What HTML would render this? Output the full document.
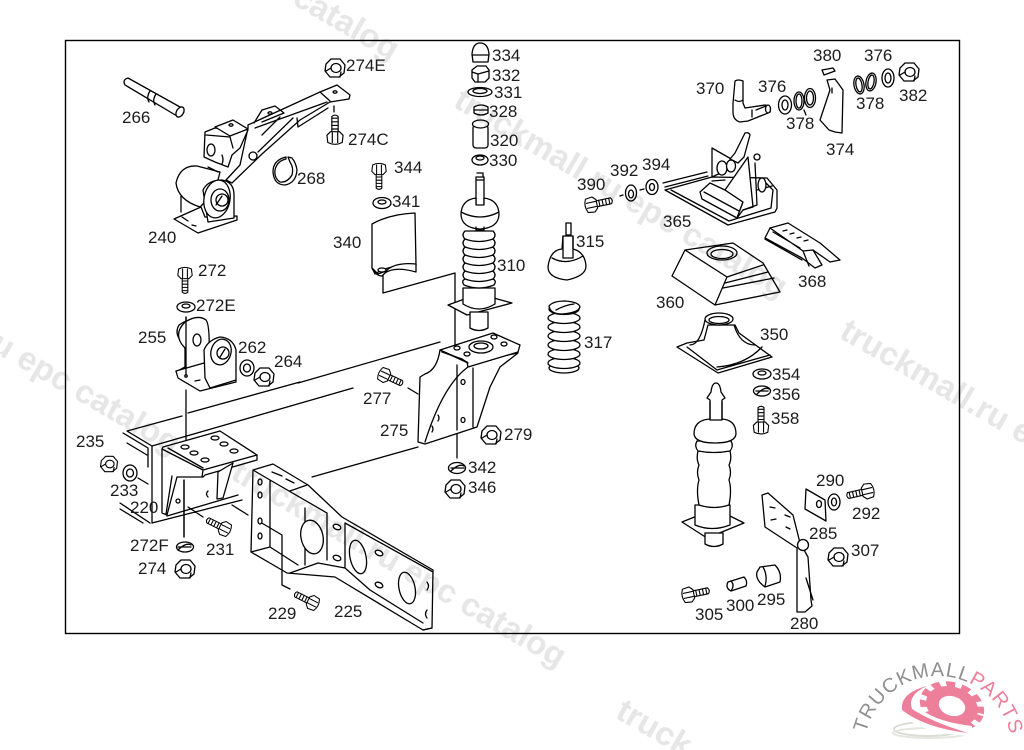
<!DOCTYPE html>
<html lang="en"><head><meta charset="utf-8"><title>Diagram</title>
<style>
html,body{margin:0;padding:0;background:#fff;width:1024px;height:750px;overflow:hidden}
svg{position:absolute;left:0;top:0;display:block;overflow:hidden}
.p path,.p ellipse,.p circle,.p rect,.p polygon,.p polyline,.p line{stroke:#000;stroke-width:1.3;fill:#fff;stroke-linejoin:round;stroke-linecap:round}
.p .n{fill:none}
.l text{font:17px "Liberation Sans",sans-serif;fill:#1c1c1c}
.w{mix-blend-mode:multiply}
.w text{font:bold 33px "Liberation Sans",sans-serif;fill:#e6e6e6}
</style></head><body>
<svg width="1024" height="750" viewBox="0 0 1024 750" xmlns="http://www.w3.org/2000/svg">
<defs>
<g id="bolt" class="p"><path d="M6,-3.5L24,-3.5Q27,0 24,3.5L6,3.5Z"/><path class="n" d="M10,-3.5V3.5M14,-3.5V3.5M18,-3.5V3.5M22,-3.5V3.5"/><path d="M-5,-8L3,-9L7,-5L7,5L3,9L-5,8Q-9,0 -5,-8Z"/><path class="n" d="M-5,-3L6,-3M-5,3L6,3"/></g>
<g id="nut" class="p"><path d="M-9,-4L-4,-9L5,-9L10,-3L9,5L4,9L-5,9L-10,3Z"/><ellipse cx="1" cy="0" rx="5" ry="4.5"/><path class="n" d="M-9,3L-4,0M5,9L6,4"/></g>
</defs>
<rect x="65.5" y="40.5" width="894" height="593" fill="#fff" stroke="#000" stroke-width="1.4"/>
<g class="p">
<!-- frame rail lines -->
<path class="n" d="M127,431L182,416M188,413L300,382M298,383L440,342M152,446L353,388M428,438L457,430M312,477L418,447M127,431L152,446L152,523L242,500M123,433L148,448L148,467M127,443L147,455M120,503L150,523M120,509L143,523M232,505L248,515M138,478L148,484M188,507L203,517M408,388L418,394M383,273V293L455,273V350M186,317V372M186,390V445M184,480V537M457,365V458M334,106V112"/>
<!-- 266 pin -->
<path d="M128,78L180,107L184,112L177,116L125,85Q122,80 128,78Z"/><path class="n" d="M150,91Q146,97 149,102M156,94Q152,100 155,105"/><ellipse cx="180" cy="112" rx="3.5" ry="5.5" transform="rotate(30 180 112)"/>
<!-- 240 bracket -->
<path d="M248,125L320,92L337,85L350,95L349,99L330,102L300,120L262,154L232,183L226,180L240,165L248,128Z"/>
<path class="n" d="M320,92L330,101M254,123L262,110L275,106L284,113L262,122M255,128L327,102M293,118L258,152M297,118L298,127L328,108M280,117L262,135"/>
<ellipse cx="335" cy="92" rx="2" ry="1.2"/><ellipse cx="270" cy="113" rx="2" ry="1.2"/><circle cx="253" cy="156" r="4"/>
<path d="M205,132L215,128L248,130L240,148L232,155L228,167L215,162L204,157Z"/>
<path d="M215,127L233,120L248,129L230,136Z"/><ellipse cx="231" cy="125" rx="2" ry="1.2"/>
<path class="n" d="M206,135L230,137L233,148"/>
<path class="n" d="M212,145Q215,150 213,155M222,155Q224,160 222,164"/><ellipse cx="211" cy="150" rx="4" ry="6"/>
<path d="M174,219L201,207L205,217L237,216L237,220L198,233Z"/>
<path d="M197,166Q180,165 176,183Q178,200 200,207L215,192L220,172Z"/>
<path class="n" d="M181,196L181,212M208,167L218,172"/>
<path d="M208,222L203,190Q208,180 222,180Q234,182 234,195V218Z"/>
<ellipse cx="217" cy="199" rx="13" ry="19" transform="rotate(10 217 199)"/>
<ellipse cx="220" cy="200" rx="9" ry="11"/><circle cx="222" cy="200" r="6"/><path class="n" d="M216,205L222,196"/>
<path class="n" d="M182,217L188,221M192,225L196,226"/>
<!-- 268 circlip -->
<path d="M286,157Q273,160 273,172Q274,185 285,185Q296,183 297,170Q296,163 292,158L288,157L290,162Q294,168 292,175Q287,183 280,182Q274,178 275,170Q277,161 286,159Z"/>
<!-- 340 cover -->
<path d="M372,224Q390,214 415,213L416,265Q390,264 375,274L372,268Z"/><path d="M372,268L378,274L386,271Q395,262 416,264L416,272Q395,266 385,273L382,276Q376,276 372,268Z"/><ellipse cx="382" cy="270" rx="4" ry="2"/>
<!-- 275 bracket -->
<path d="M420,377L425,374Q437,370 440,350L468,363L518,353L500,367L490,387L477,427L425,444L418,442Z"/>
<path d="M440,350L493,333L520,345L518,352L468,367L467,362Z"/>
<path class="n" d="M442,352L462,359L468,363M468,367Q443,385 425,442M473,368V427"/>
<ellipse cx="481" cy="347" rx="12" ry="6"/><ellipse cx="481" cy="346" rx="7" ry="3"/>
<ellipse cx="457" cy="348" rx="3" ry="2"/><ellipse cx="467" cy="354" rx="3" ry="2"/><ellipse cx="494" cy="337" rx="3" ry="2"/><ellipse cx="504" cy="344" rx="3" ry="2"/>
<ellipse cx="463" cy="382" rx="2" ry="2.5"/><ellipse cx="463" cy="420" rx="2" ry="2.5"/>
<path class="n" d="M438,415Q440,418 438,421M432,426Q434,429 432,432M457,365V430"/>
<!-- 255 -->
<path d="M176,372L185,367L185,345Q173,335 179,325Q186,320 194,319L190,365Z"/>
<path d="M183,369L186,366L185,348Q172,335 185,322Q198,314 206,320Q210,325 209,355L207,365Z"/>
<ellipse cx="197" cy="340" rx="4" ry="6"/>
<path d="M176,371L204,363L207,368L207,372L236,380V382L200,391L178,378Z"/>
<path d="M205,378L204,350Q208,340 220,337Q233,338 236,350V380L210,388Z"/>
<ellipse cx="221" cy="352" rx="10" ry="13" transform="rotate(15 221 352)"/><circle cx="223" cy="353" r="6"/><path class="n" d="M220,357L225,349M186,317V376"/>
<circle cx="186" cy="376" r="1.2"/><path class="n" d="M195,381L200,380"/>
<!-- bracket under 255 -->
<path d="M163,447L220,431L257,455L257,460L205,475L203,477L177,477L167,515L162,513V449Z"/>
<path class="n" d="M162,449L203,470L257,455M203,470L202,477M168,448L203,468M172,476L166,514"/>
<path d="M233,463L223,498L217,499L218,472Z"/>
<path class="n" d="M167,516L238,495"/>
<ellipse cx="185" cy="447" rx="4" ry="2"/><ellipse cx="194" cy="453" rx="4" ry="2"/><ellipse cx="205" cy="460" rx="4" ry="2"/><ellipse cx="215" cy="438" rx="4" ry="2"/><ellipse cx="224" cy="444" rx="4" ry="2"/><ellipse cx="234" cy="451" rx="4" ry="2"/><ellipse cx="178" cy="501" rx="2" ry="2"/>
<path class="n" d="M208,491Q205,494 208,497M184,480V537"/>
<!-- 225 crossmember -->
<path d="M253,470L273,464L308,485L342,517L433,570L432,628L423,630L335,577L287,573L251,552Z"/>
<path class="n" d="M253,470L270,480L327,513M345,523L433,572M270,480V547L251,552M270,547L298,565M290,491L307,485M327,513V560M345,523V568M290,573L318,563L345,568L370,590M370,590L423,623M423,630L432,628M305,508V565M260,522L282,535V585L290,589"/>
<ellipse cx="312" cy="537" rx="11" ry="17" transform="rotate(-12 312 537)"/><ellipse cx="358" cy="557" rx="8" ry="17" transform="rotate(-12 358 557)"/><ellipse cx="407" cy="588" rx="8" ry="16" transform="rotate(-12 407 588)"/>
<ellipse cx="260" cy="482" rx="2" ry="3"/><ellipse cx="260" cy="495" rx="2" ry="3"/><ellipse cx="260" cy="521" rx="2" ry="3"/><ellipse cx="260" cy="536" rx="2" ry="3"/>
<ellipse cx="337" cy="527" rx="4" ry="2.5" transform="rotate(20 337 527)"/><ellipse cx="337" cy="558" rx="4" ry="2.5" transform="rotate(20 337 558)"/><ellipse cx="379" cy="553" rx="4" ry="2.5" transform="rotate(25 379 553)"/><ellipse cx="379" cy="585" rx="4" ry="2.5" transform="rotate(25 379 585)"/>
<path class="n" d="M272,472L282,476M286,479L294,483M427,582Q430,586 427,590M427,610Q424,614 427,618"/>
<!-- 334..330 stack -->
<path d="M472,54Q473,43 480,43Q488,43 489,54L488,62L473,62Z"/><path class="n" d="M472,55L489,55"/>
<path d="M472,70L477,66L486,66L489,70L489,78L485,82L475,82L472,78Z"/><path class="n" d="M472,72L478,74L489,71M478,74V82"/>
<ellipse cx="480" cy="92" rx="12" ry="4.5"/><ellipse cx="480" cy="91" rx="7" ry="2.5"/>
<path d="M474,107Q481,103 488,107V113Q481,117 474,113Z"/><path class="n" d="M474,110H488"/>
<rect x="473" y="125" width="15" height="23" rx="3"/><ellipse cx="480.500" cy="124" rx="8" ry="4"/>
<ellipse cx="480" cy="160" rx="8" ry="5"/><ellipse cx="480" cy="158" rx="4" ry="2"/>
<!-- 310 -->
<path d="M476,177H484V207H476Z"/><path class="n" d="M477,173H483V177M476,180H484"/>
<path d="M448,305L470,297H490L512,303L467,315Z"/><path d="M470,312H488V328Q479,333 470,328Z"/>
<path d="M463,288V304Q479,314 495,304V288Z"/>
<path d="M464,285Q479,291 494,285Q497,281 493,279Q497,275 493,271Q497,267 493,263Q497,259 493,255Q497,251 493,247Q497,243 493,239Q497,235 493,231L465,231Q461,235 465,239Q461,243 465,247Q461,251 465,255Q461,259 465,263Q461,267 465,271Q461,275 465,279Q461,281 464,285Z"/>
<path class="n" d="M465,239Q479,244 493,239M465,247Q479,252 493,247M465,255Q479,260 493,255M465,263Q479,268 493,263M465,271Q479,276 493,271M465,279Q479,284 493,279"/>
<path d="M461,215Q461,200 476,198V205H484V198Q499,200 499,215Q498,228 480,229Q462,228 461,215Z"/><path class="n" d="M461,212Q480,222 499,212M476,227V230H484V227"/>
<!-- 315, 317 -->
<path d="M548,267Q550,250 562,249L563,236H573V249Q585,252 586,266Q586,276 567,280Q548,278 548,267Z"/><path class="n" d="M563,236V258H573V236M566,223H571V235H566ZM552,258Q567,266 583,256"/>
<g><ellipse cx="564" cy="368" rx="15" ry="5"/><ellipse cx="564" cy="363" rx="16" ry="5.500"/><ellipse cx="564" cy="354" rx="16" ry="5.500"/><ellipse cx="564" cy="345" rx="16" ry="5.500"/><ellipse cx="564" cy="336" rx="16" ry="5.500"/><ellipse cx="564" cy="327" rx="16" ry="5.500"/><ellipse cx="564" cy="318" rx="16" ry="5.500"/><ellipse cx="564" cy="309" rx="15" ry="5.500"/></g>
<path d="M549,306Q553,301 565,301Q579,302 580,307Q578,313 562,314Q550,314 549,306Z"/><path class="n" d="M556,310Q565,305 574,304"/>
<!-- 365 -->
<path class="n" d="M663,183L707,172M665,187L708,176"/>
<path d="M665,190L712,177L767,178L777,190V208L775,212L728,225Z"/><path class="n" d="M671,190L729,221L771,208L773,190L764,181"/>
<path d="M712,148V177L727,170L733,160Z"/><ellipse cx="722" cy="168" rx="5" ry="7"/>
<path d="M700,192L710,183L725,190L743,202L737,218L702,199Z"/><path class="n" d="M704,192L739,211M712,181L725,180"/>
<path d="M725,190L748,157L753,207L743,210L737,218L743,202Z"/><path class="n" d="M755,163L757,205L743,210M757,190L772,186"/>
<path d="M735,153L745,133Q749,132 750,135L744,157L738,163L730,159Z"/><ellipse cx="731" cy="166" rx="4.500" ry="6"/><circle cx="757" cy="157" r="3"/>
<ellipse cx="762" cy="185" rx="4" ry="7"/>
<!-- 370 376 378 -->
<path d="M735,81Q738,79 743,81L743,103L745,108L765,105Q772,106 770,112L768,113L748,121L740,122Q733,120 733,112V103Z"/><path class="n" d="M735,100Q739,103 743,100M752,110L752,117M756,110L766,106"/><ellipse cx="768" cy="109" rx="2.500" ry="4"/>
<ellipse cx="785" cy="105" rx="6.500" ry="9"/><ellipse cx="785" cy="105" rx="3" ry="5"/>
<ellipse cx="799" cy="101" rx="5" ry="9"/><ellipse cx="799" cy="101" rx="3" ry="7"/><ellipse cx="810" cy="98" rx="5.500" ry="9.500"/><ellipse cx="810" cy="98" rx="3.500" ry="7"/>
<path class="n" d="M804,110L806,115"/>
<path d="M822,70L833,68L835,71L824,75Z"/>
<path d="M827,80L835,79L843,90L842,133L835,132L829,130L820,120L830,90Z"/><path class="n" d="M832,88V93"/>
<ellipse cx="859" cy="85" rx="5" ry="9" transform="rotate(-10 859 85)"/><ellipse cx="859" cy="85" rx="3" ry="7" transform="rotate(-10 859 85)"/><ellipse cx="871" cy="82" rx="5" ry="9" transform="rotate(10 871 82)"/><ellipse cx="871" cy="82" rx="3" ry="7" transform="rotate(10 871 82)"/>
<ellipse cx="888" cy="78" rx="6" ry="9"/><ellipse cx="888" cy="78" rx="3" ry="5"/>
<!-- 368 -->
<path d="M765,238L770,228L788,223L820,243L840,260L830,262L813,250L822,265L815,268L802,258Z"/><path class="n" d="M770,228L803,251L813,250M803,251L809,266M773,232L800,248M765,239L802,260"/>
<path class="n" d="M783,231L787,230M790,234L794,233M797,238L801,237M804,241L808,240"/>
<!-- 360 -->
<path d="M672,276L685,250L733,243L763,263L780,292L715,305Z"/><path class="n" d="M685,250L727,277L715,305M727,277L763,265M725,283L768,272M723,288L774,278"/>
<ellipse cx="722" cy="253" rx="15" ry="7"/><ellipse cx="722" cy="254" rx="11" ry="4.500"/>
<!-- 350 -->
<path d="M677,347L687,343L704,340L708,325L735,325L739,333L772,357L718,373Z"/><path class="n" d="M687,347L717,370L770,355M690,345Q700,345 705,320M755,345Q740,345 734,325M717,367Q745,365 762,347"/>
<ellipse cx="719" cy="319" rx="14" ry="6"/><ellipse cx="719" cy="320" rx="10" ry="3.500"/>
<!-- stick -->
<path d="M682,522L697,516H730L744,523L707,538Z"/><path d="M705,533H723V544Q714,549 705,544Z"/>
<path d="M695,505V525Q712,532 730,525V505Z"/>
<path d="M698,451Q696,459 699,465Q696,472 699,480Q696,490 699,505Q714,510 729,505Q732,490 729,480Q732,472 729,465Q732,459 730,451Z"/>
<path d="M697,441Q694,446 698,451Q714,454 730,451Q734,446 731,441Z"/>
<path d="M710,419V400L707,398L711,392Q712,383 716,383Q720,383 721,392L725,398L722,400V419Q736,420 736,434Q735,443 715,443Q695,443 694,434Q694,420 710,419Z"/><path class="n" d="M710,402V420H722V402"/>
<!-- 280, 285 -->
<path d="M762,495L768,493L793,515L800,543L808,557L811,600L812,606L805,612L797,612V548L765,527Z"/><path class="n" d="M806,578L813,600"/><circle cx="803" cy="545" r="5.500"/>
<path class="n" d="M770,507L775,508M785,515L790,517M771,520L776,519M786,527L790,529"/>
<path d="M806,489L825,500L826,521L805,509Z"/><ellipse cx="819" cy="504" rx="2.500" ry="3.500"/>
<!-- 300, 295 -->
<path d="M728,582L744,577Q748,581 746,586L731,591Q725,588 728,582Z"/><path class="n" d="M731,581Q735,585 731,591"/>
<path d="M760,567L775,565Q782,572 780,582L765,587Q755,580 757,572Z"/><path class="n" d="M763,567Q768,576 765,586"/>
<!-- bolts -->
<use href="#bolt" transform="translate(185,273) rotate(90) scale(.8)"/><use href="#bolt" transform="translate(379,169) rotate(90) scale(.8)"/>
<use href="#bolt" transform="translate(335,138) rotate(-90) scale(.9)"/><use href="#bolt" transform="translate(384,375) rotate(25) scale(.8)"/>
<use href="#bolt" transform="translate(225,529) rotate(207) scale(.8)"/><use href="#bolt" transform="translate(313,603) rotate(207) scale(.8)"/>
<use href="#bolt" transform="translate(591,205) rotate(-12) scale(.85)"/><use href="#bolt" transform="translate(761,428) rotate(-90) scale(.85)"/>
<use href="#bolt" transform="translate(688,595) rotate(-12) scale(.85)"/><use href="#bolt" transform="translate(868,491) rotate(167) scale(.85)"/>
<!-- nuts -->
<use href="#nut" transform="translate(335,68)"/><use href="#nut" transform="translate(264,377)"/><use href="#nut" transform="translate(109,464) scale(.85)"/>
<use href="#nut" transform="translate(185,569)"/><use href="#nut" transform="translate(455,489)"/><use href="#nut" transform="translate(491,435)"/>
<use href="#nut" transform="translate(909,72)"/><use href="#nut" transform="translate(838,557)"/>
<!-- washers -->
<ellipse cx="186" cy="307" rx="9" ry="5"/><ellipse cx="186" cy="306" rx="4" ry="2"/>
<ellipse cx="382" cy="203" rx="9" ry="5.500"/><ellipse cx="382" cy="202" rx="4" ry="2"/>
<ellipse cx="247" cy="368" rx="7" ry="8"/><ellipse cx="247" cy="368" rx="3.500" ry="4"/>
<ellipse cx="130" cy="473" rx="7" ry="8"/><ellipse cx="130" cy="473" rx="3.500" ry="4"/>
<ellipse cx="631" cy="193" rx="5.500" ry="8"/><ellipse cx="631" cy="194" rx="2.500" ry="4"/><path class="n" d="M620,196L623,195M640,190L644,189"/>
<ellipse cx="652" cy="187" rx="6" ry="7.500"/><ellipse cx="652" cy="187" rx="2.500" ry="3.500"/>
<ellipse cx="762" cy="374" rx="9" ry="5"/><ellipse cx="762" cy="373" rx="4" ry="2"/>
<ellipse cx="762" cy="391" rx="8.500" ry="5"/><path class="n" d="M756,391H768M757,394Q765,386 769,389"/>
<ellipse cx="834" cy="502" rx="6" ry="8"/><ellipse cx="834" cy="502" rx="2.500" ry="4"/>
<ellipse cx="457" cy="468" rx="8.500" ry="5.500"/><path class="n" d="M451,468H464M451,471Q459,463 464,466"/>
<ellipse cx="185" cy="547" rx="8.500" ry="5"/><path class="n" d="M178,547H191M178,550Q186,542 191,545"/>
</g>
<!-- labels -->
<g class="l">
<text x="346" y="71">274E</text><text x="122" y="123">266</text><text x="348" y="145">274C</text><text x="394" y="173">344</text><text x="297" y="184">268</text><text x="392" y="207">341</text><text x="148" y="243">240</text><text x="333" y="248">340</text><text x="198" y="276">272</text><text x="196" y="311">272E</text><text x="138" y="343">255</text><text x="238" y="353">262</text><text x="274" y="367">264</text><text x="363" y="404">277</text><text x="380" y="436">275</text><text x="76" y="447">235</text><text x="110" y="496">233</text><text x="130" y="513">220</text><text x="130" y="551">272F</text><text x="206" y="555">231</text><text x="138" y="574">274</text><text x="268" y="619">229</text><text x="334" y="617">225</text>
<text x="492" y="61">334</text><text x="492" y="81">332</text><text x="494" y="98">331</text><text x="489" y="117">328</text><text x="490" y="146">320</text><text x="489" y="166">330</text><text x="497" y="271">310</text><text x="576" y="247">315</text><text x="584" y="348">317</text><text x="577" y="190">390</text><text x="610" y="176">392</text><text x="642" y="170">394</text><text x="696" y="94">370</text><text x="758" y="92">376</text><text x="786" y="129">378</text><text x="813" y="61">380</text><text x="864" y="61">376</text><text x="856" y="109">378</text><text x="899" y="101">382</text><text x="826" y="155">374</text><text x="663" y="227">365</text><text x="798" y="287">368</text><text x="656" y="308">360</text><text x="760" y="340">350</text><text x="772" y="380">354</text><text x="772" y="400">356</text><text x="771" y="424">358</text><text x="816" y="486">290</text><text x="852" y="519">292</text><text x="809" y="539">285</text><text x="851" y="556">307</text><text x="757" y="605">295</text><text x="726" y="611">300</text><text x="695" y="620">305</text><text x="790" y="629">280</text><text x="468" y="473">342</text><text x="468" y="493">346</text><text x="504" y="440">279</text>
</g>
<!-- logo -->
<g>
<ellipse cx="928" cy="729" rx="34" ry="7" fill="none" stroke="#dcdcd5" stroke-width="2"/>
<ellipse cx="930" cy="733" rx="37" ry="5" fill="none" stroke="#e6e6e0" stroke-width="2"/>
<g transform="translate(952,706) rotate(18) scale(1,.72)">
<circle r="20" fill="none" stroke="#ee7f9b" stroke-width="13"/>
<circle r="29" fill="none" stroke="#ee7f9b" stroke-width="8" stroke-dasharray="9 6.500"/>
</g>
<path d="M925,684Q896,693 898,712Q920,734 972,736L972,726Q938,722 922,710Q914,696 925,684Z" fill="#fff"/>
<path d="M927,686Q900,693 902,710Q925,728 968,733Q932,722 912,709Q907,695 927,686Z" fill="#ee7f9b"/>
<path id="arc" d="M866,733A74,74 0 0 1 1010,733" fill="none"/>
<text font-family="'Liberation Sans',sans-serif" font-size="20" letter-spacing="1" fill="#8f8f8f"><textPath href="#arc">TRUCKMALL<tspan fill="#ee7f9b">PARTS</tspan></textPath></text>
</g>
<!-- watermark -->
<g class="w">
<text transform="translate(452,106) rotate(30.500)">truckmall.ru epc catalog</text>
<text transform="translate(838,337) rotate(30)">truckmall.ru e</text>
<text text-anchor="end" transform="translate(172,455) rotate(30)">u epc catalog</text>
<text text-anchor="end" transform="translate(558,668) rotate(30)">truckmall.ru epc catalog</text>
<text text-anchor="end" transform="translate(391,61) rotate(30)">c catalog</text>
<text transform="translate(614,717) rotate(30)">truck</text>
</g>
</svg>
</body></html>
